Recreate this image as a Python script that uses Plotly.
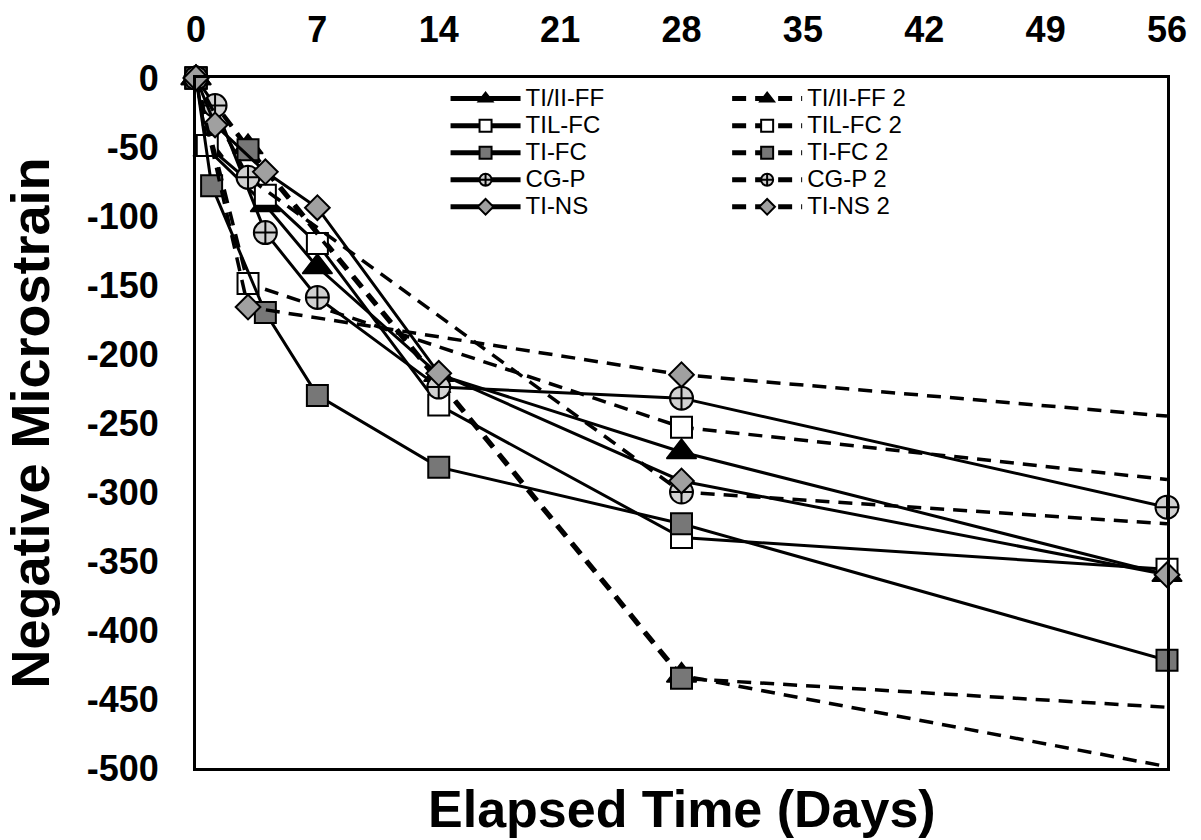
import plotly.graph_objects as go

# ---------------- data ----------------
x_ticks = [0, 7, 14, 21, 28, 35, 42, 49, 56]
x_tick_labels = ["0", "7", "14", "21", "28", "35", "42", "49", "56"]
y_ticks = [0, -50, -100, -150, -200, -250, -300, -350, -400, -450, -500]
y_tick_labels = ["0", "-50", "-100", "-150", "-200", "-250", "-300", "-350", "-400", "-450", "-500"]

ti_ii_ff_days = [0, 0.7, 4, 7, 14, 28, 56]
ti_ii_ff_vals = [0, -52, -92, -137, -215, -271, -360]
ti_ii_ff2_days = [0, 3, 28, 56]
ti_ii_ff2_vals = [0, -50, -433, -499]

til_fc_days = [0, 0.65, 4, 7, 14, 28, 56]
til_fc_vals = [0, -49, -85, -120, -237, -333, -356]
til_fc2_days = [0, 3, 28, 56]
til_fc2_vals = [0, -149, -253, -291]

ti_fc_days = [0, 0.9, 4, 7, 14, 28, 56]
ti_fc_vals = [0, -78, -170, -230, -282, -323, -422]
ti_fc2_days = [0, 3, 28, 56]
ti_fc2_vals = [0, -52, -435, -456]

cg_p_days = [0, 1.1, 4, 7, 14, 28, 56]
cg_p_vals = [0, -20, -112, -159, -224, -232, -311]
cg_p2_days = [0, 3, 28, 56]
cg_p2_vals = [0, -72, -300, -323]

ti_ns_days = [0, 1.1, 4, 7, 14, 28, 56]
ti_ns_vals = [0, -34, -68, -94, -214, -292, -360]
ti_ns2_days = [0, 3, 28, 56]
ti_ns2_vals = [0, -166, -215, -245]

# ---------------- styles ----------------
FONT = "Liberation Sans"
DASH = "14px,9px"

styles = {
    "tri": dict(symbol="triangle-up", size=26, color="black", line=dict(color="black", width=1.5)),
    "sq_open": dict(symbol="square", size=21, color="white", line=dict(color="black", width=2)),
    "sq_hatch": dict(symbol="square", size=21, color="#777777", line=dict(color="black", width=2)),
    "circ": dict(symbol="circle-cross", size=23, color="#d0d0d0", line=dict(color="black", width=2)),
    "dia": dict(symbol="diamond", size=19, color="#a0a0a0", line=dict(color="black", width=2)),
}

series = [
    ("TI/II-FF", ti_ii_ff_days, ti_ii_ff_vals, "tri", False),
    ("TI/II-FF 2", ti_ii_ff2_days, ti_ii_ff2_vals, "tri", True),
    ("TIL-FC", til_fc_days, til_fc_vals, "sq_open", False),
    ("TIL-FC 2", til_fc2_days, til_fc2_vals, "sq_open", True),
    ("TI-FC", ti_fc_days, ti_fc_vals, "sq_hatch", False),
    ("TI-FC 2", ti_fc2_days, ti_fc2_vals, "sq_hatch", True),
    ("CG-P", cg_p_days, cg_p_vals, "circ", False),
    ("CG-P 2", cg_p2_days, cg_p2_vals, "circ", True),
    ("TI-NS", ti_ns_days, ti_ns_vals, "dia", False),
    ("TI-NS 2", ti_ns2_days, ti_ns2_vals, "dia", True),
]

fig = go.Figure()
for name, xs, ys, sty, dashed in series:
    m = dict(styles[sty])
    m["opacity"] = 1
    if dashed:
        # the dashed series run on past day 56; no marker where they meet the right edge
        m["size"] = [m["size"]] * (len(xs) - 1) + [0]
    fig.add_trace(go.Scatter(
        x=xs, y=ys,
        name=f"<span style='font-size:24px'>{name}</span>",
        mode="lines+markers",
        line=dict(color="black", width=3.5 if dashed else 3, dash=DASH if dashed else "solid"),
        marker=m,
        cliponaxis=False,
        legend="legend2" if dashed else "legend",
        hoverinfo="skip",
    ))

legend_common = dict(
    font=dict(family=FONT, size=18.5, color="black"),
    bgcolor="rgba(0,0,0,0)",
    borderwidth=0,
    itemwidth=70,
    itemsizing="constant",
    yanchor="top",
    xanchor="left",
    y=0.997,
    tracegroupgap=0,
)

fig.update_layout(
    width=1201, height=840,
    margin=dict(l=196, r=34, t=78, b=72),
    paper_bgcolor="white",
    plot_bgcolor="white",
    showlegend=True,
    legend=dict(x=0.257, **legend_common),
    legend2=dict(x=0.547, **legend_common),
    xaxis=dict(
        side="top", range=[0, 56], tickmode="array",
        tickvals=x_ticks, ticktext=x_tick_labels,
        showgrid=False, zeroline=False, automargin=False,
        showline=True, linecolor="black", linewidth=3, mirror=True,
        ticks="", ticklabelstandoff=19,
        tickfont=dict(family=FONT, size=36, color="black", weight="bold"),
    ),
    yaxis=dict(
        range=[-500, 0], tickmode="array",
        tickvals=y_ticks, ticktext=y_tick_labels,
        showgrid=False, zeroline=False, automargin=False,
        showline=True, linecolor="black", linewidth=3, mirror=True,
        ticks="", ticklabelstandoff=27, ticklabelshift=0,
        tickfont=dict(family=FONT, size=36, color="black", weight="bold"),
        title=dict(text="Negative Microstrain", standoff=22,
                   font=dict(family=FONT, size=54, color="black", weight="bold")),
    ),
    annotations=[dict(
        text="Elapsed Time (Days)", xref="paper", yref="paper",
        x=0.5, y=-0.06, xanchor="center", yanchor="middle", showarrow=False,
        font=dict(family=FONT, size=52, color="black", weight="bold"),
    )],
)

fig.write_html("out.html")
